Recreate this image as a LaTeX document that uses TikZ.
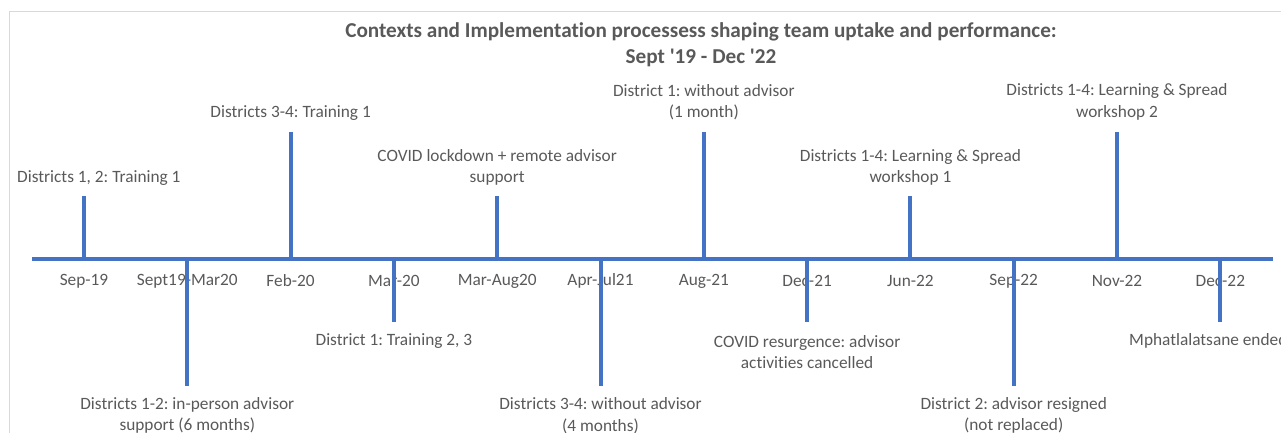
\documentclass[tikz,border=0pt]{standalone}
\usepackage{fontspec}
\setmainfont{Carlito}[Ligatures=TeXOff, RawFeature={-liga,-clig,-dlig}]
\definecolor{axisblue}{HTML}{4472C4}
\definecolor{txtgray}{HTML}{595959}
\definecolor{framegray}{HTML}{D9D9D9}
\frenchspacing
\begin{document}
\begin{tikzpicture}[x=1pt,y=-1pt,
  evt/.style={inner sep=0pt, align=center, text=txtgray, font=\fontsize{17.3}{21.5}\selectfont},
  datelbl/.style={inner sep=0pt, text=txtgray, font=\fontsize{17.3}{20}\selectfont},
  tick/.style={draw=axisblue, line width=4pt},
  ttl/.style={inner sep=0pt, align=center, text=txtgray, font=\fontsize{21.2}{26}\selectfont\bfseries}]
\useasboundingbox (0,0) rectangle (1281,433);
\draw[framegray, line width=1pt] (9.5,12) rectangle (1300,450);
\node[ttl] (title) at (701,45) {Contexts and Implementation processess shaping team uptake and performance:\\Sept '19 - Dec '22};
% axis
\coordinate (axL) at (32,259);
\coordinate (axR) at (1273,259);
% date labels
\node[datelbl] (d1) at (84,281) {Sep-19};
\node[datelbl] (d2) at (187.3,281) {Sept19-Mar20};
\node[datelbl] (d3) at (290.6,281) {Feb-20};
\node[datelbl] (d4) at (393.9,281) {Mar-20};
\node[datelbl] (d5) at (497.2,281) {Mar-Aug20};
\node[datelbl] (d6) at (600.5,281) {Apr-Jul21};
\node[datelbl] (d7) at (703.8,281) {Aug-21};
\node[datelbl] (d8) at (807.1,281) {Dec-21};
\node[datelbl] (d9) at (910.4,281) {Jun-22};
\node[datelbl] (d10) at (1013.7,281) {Sep-22};
\node[datelbl] (d11) at (1117,281) {Nov-22};
\node[datelbl] (d12) at (1220.3,281) {Dec-22};
\draw[tick] (axL) -- (axR);
% tick ends
\coordinate (b1) at (84,259); \coordinate (e1) at (84,196);
\coordinate (b2) at (187.3,259); \coordinate (e2) at (187.3,386);
\coordinate (b3) at (290.6,259); \coordinate (e3) at (290.6,132);
\coordinate (b4) at (393.9,259); \coordinate (e4) at (393.9,322);
\coordinate (b5) at (497.2,259); \coordinate (e5) at (497.2,196);
\coordinate (b6) at (600.5,259); \coordinate (e6) at (600.5,386);
\coordinate (b7) at (703.8,259); \coordinate (e7) at (703.8,132);
\coordinate (b8) at (807.1,259); \coordinate (e8) at (807.1,322);
\coordinate (b9) at (910.4,259); \coordinate (e9) at (910.4,196);
\coordinate (b10) at (1013.7,259); \coordinate (e10) at (1013.7,386);
\coordinate (b11) at (1117,259); \coordinate (e11) at (1117,132);
\coordinate (b12) at (1220.3,259); \coordinate (e12) at (1220.3,322);
\foreach \i in {1,...,12} {\draw[tick] (b\i) -- (e\i);}
% event labels
\node[evt, anchor=west] (t1) at (17,178) {Districts 1, 2: Training 1};
\node[evt] (t3) at (290.6,113) {Districts 3-4: Training 1};
\node[evt] (t5) at (497.2,167.5) {COVID lockdown + remote advisor\\support};
\node[evt] (t7) at (703.8,102) {District 1: without advisor\\(1 month)};
\node[evt] (t9) at (910.4,167.5) {Districts 1-4: Learning \& Spread\\workshop 1};
\node[evt] (t11) at (1117,102) {Districts 1-4: Learning \& Spread\\workshop 2};
\node[evt] (t2) at (187.3,415.5) {Districts 1-2: in-person advisor\\support (6 months)};
\node[evt] (t4) at (393.9,341) {District 1: Training 2, 3};
\node[evt] (t6) at (600.5,415.5) {Districts 3-4: without advisor\\(4 months)};
\node[evt] (t8) at (807.1,352) {COVID resurgence: advisor\\activities cancelled};
\node[evt] (t10) at (1013.7,415.5) {District 2: advisor resigned\\(not replaced)};
\node[evt, anchor=west] (t12) at (1129,341) {Mphatlalatsane ended};
\end{tikzpicture}
\end{document}
